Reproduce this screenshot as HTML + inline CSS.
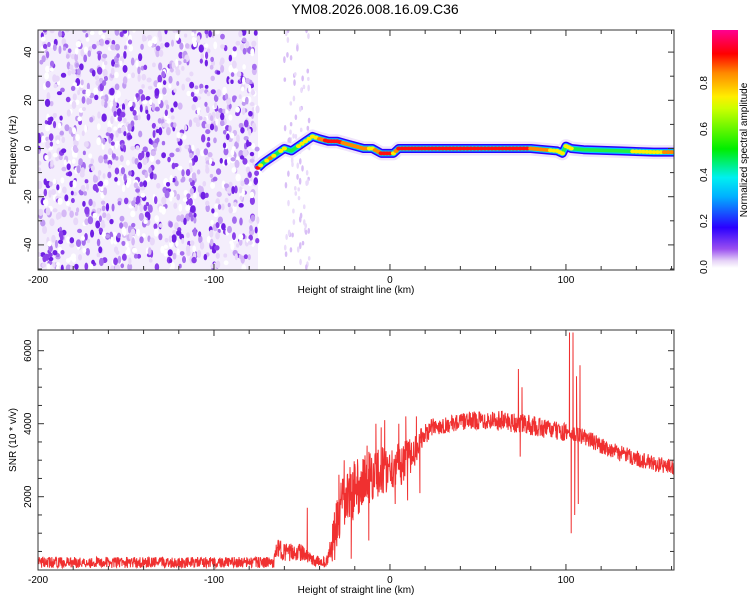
<!DOCTYPE html>
<html><head><meta charset="utf-8"><style>
body{margin:0;background:#fff}
svg text{font-family:"Liberation Sans",sans-serif;fill:#000}
</style></head><body>
<svg id="c" width="750" height="600" viewBox="0 0 750 600" xmlns="http://www.w3.org/2000/svg">
<defs>
<linearGradient id="cb" x1="0" y1="1" x2="0" y2="0">
<stop offset="0" stop-color="#ffffff"/><stop offset="0.03" stop-color="#e6d3f7"/><stop offset="0.08" stop-color="#9a4ff0"/>
<stop offset="0.17" stop-color="#2a00ff"/><stop offset="0.3" stop-color="#00b0ff"/><stop offset="0.38" stop-color="#00f0f0"/>
<stop offset="0.5" stop-color="#00ee00"/><stop offset="0.67" stop-color="#ccff00"/><stop offset="0.72" stop-color="#ffee00"/>
<stop offset="0.82" stop-color="#ff8800"/><stop offset="0.9" stop-color="#ff0000"/><stop offset="1" stop-color="#ff0090"/>
</linearGradient>
<clipPath id="clipTop"><rect x="38" y="30" width="636" height="240"/></clipPath>
<clipPath id="clipBot"><rect x="38" y="330" width="636" height="240"/></clipPath>
</defs>
<text x="375" y="14" font-size="14" text-anchor="middle">YM08.2026.008.16.09.C36</text>
<g id="top"></g>
<g id="bot"></g>
<g id="cbar"></g>
</svg>
<script>
// ---- data ----
const xTicks=[-200,-100,0,100];
const freqTicks=[40,20,0,-20,-40];
const snrTicks=[2000,4000,6000];
const cbTicks=[0.0,0.2,0.4,0.6,0.8];
// frequency track (km, Hz, amplitude)
const trackKm=[-75,-72,-68,-64,-60,-56,-52,-48,-44,-40,-35,-30,-25,-20,-15,-10,-5,0,2,5,20,40,60,80,95,98,100,103,110,130,150,162];
const trackHz=[-8,-6,-4,-2,0,-1,1,3,5,4,3,3,2,1,0,0,-2,-2,-2,0,0,0,0,0,-1,-2,1,0,-0.5,-1,-1.5,-1.5];
const trackAmp=[0.9,0.5,0.8,0.5,0.7,0.4,0.6,0.6,0.7,0.8,0.9,0.9,0.8,0.8,0.8,0.7,0.9,0.9,0.7,0.95,0.95,0.95,0.9,0.85,0.7,0.6,0.7,0.6,0.5,0.55,0.7,0.85];
// SNR envelope (km, value, noise half-width)
const snrKm=[-200,-66,-64,-58,-52,-48,-44,-36,-32,-28,-24,-18,-10,-4,0,6,12,18,24,30,40,50,60,70,80,90,100,110,120,130,140,150,162];
const snrVal=[200,200,600,450,500,400,250,200,800,1600,2000,2300,2600,2700,2800,2900,3100,3600,3900,3950,4050,4100,4100,4050,3950,3850,3750,3650,3400,3200,3050,2900,2800];
const snrNoise=[150,150,250,250,250,200,150,150,700,800,800,800,700,700,600,600,500,300,250,220,230,250,280,300,280,260,250,230,220,220,220,220,220];
// spikes (km, value)
const spikeKm=[-47,-29,-26,-22,-13,-12,-8,-5,-3,3,5,9,10,15,17,73,74,75,102,103,104,105,106,107,108];
const spikeVal=[1700,2600,3000,300,3400,800,4000,3900,4100,1800,4000,4200,1900,4200,2100,5500,3100,5000,6500,1000,6500,1500,5300,1800,5600];

// ---- scales ----
const X0=38,X1=674,KM0=-200,KM1=161.4;
const xs=k=>X0+(k-KM0)/(KM1-KM0)*(X1-X0);
const fy=h=>148.5-h*2.41;
const sy=v=>569.7-v*0.0365;
const cy=a=>267-a*230;
const NS='http://www.w3.org/2000/svg';
function mk(tag,attrs,parent){const e=document.createElementNS(NS,tag);for(const k in attrs)e.setAttribute(k,attrs[k]);parent.appendChild(e);return e;}
let seed=12345;function rnd(){seed=(seed*16807)%2147483647;return seed/2147483647;}
function interp(xa,ya,x){if(x<=xa[0])return ya[0];for(let i=1;i<xa.length;i++){if(x<=xa[i]){const t=(x-xa[i-1])/(xa[i]-xa[i-1]);return ya[i-1]+t*(ya[i]-ya[i-1]);}}return ya[ya.length-1];}

const gTop=document.getElementById('top'),gBot=document.getElementById('bot'),cbar=document.getElementById('cbar');

// ---- top panel: noise texture ----
const gN=mk('g',{'clip-path':'url(#clipTop)'},gTop);


mk('rect',{x:X0,y:30,width:xs(-75)-X0,height:240,fill:'#f4eefc'},gN);
const purples=['#ffffff','#ffffff','#e8d8f9','#e8d8f9','#d5b8f6','#c09af2','#a46cee','#8a3fea','#7020e4'];
for(let i=0;i<1300;i++){const k=-200+rnd()*125;const y=30+rnd()*240;const c=purples[Math.floor(rnd()*purples.length)];
 mk('ellipse',{cx:xs(k),cy:y,rx:1.5+rnd()*1.2,ry:2+rnd()*2.2,fill:c},gN);}
for(let i=0;i<90;i++){const k=-60+rnd()*15;const y=30+rnd()*240;
 mk('ellipse',{cx:xs(k),cy:y,rx:1.3,ry:2+rnd()*1.5,fill:rnd()<0.5?'#eadcfa':'#d9bff6'},gN);}
// ---- track ----
const gT=mk('g',{'clip-path':'url(#clipTop)'},gTop);


const pts=trackKm.map((k,i)=>xs(k)+','+fy(trackHz[i])).join(' ');
[[14,'#efe4fb'],[9,'#2a00ff'],[6,'#00c8ff'],[3.5,'#22ee44']].forEach(([w,c])=>mk('polyline',{points:pts,fill:'none',stroke:c,'stroke-width':w,'stroke-linejoin':'round'},gT));
for(let i=0;i<trackKm.length-1;i++){const n=Math.max(1,Math.round((trackKm[i+1]-trackKm[i])/2));
 for(let j=0;j<n;j++){const t=j/n;const k=trackKm[i]+t*(trackKm[i+1]-trackKm[i]);const h=trackHz[i]+t*(trackHz[i+1]-trackHz[i]);const a=trackAmp[i]+t*(trackAmp[i+1]-trackAmp[i]);
  if(a<0.6)continue;const col=a>0.85?'#ff1010':(a>0.75?'#ff8800':'#ffee00');
  const d=mk('ellipse',{cx:xs(k),cy:fy(h),rx:2.6,ry:2,fill:col},gT);
  
  }}

// ---- bottom: SNR line ----
let sp=[];
for(let px=X0;px<=X1;px+=0.3){const k=KM0+(px-X0)/(X1-X0)*(KM1-KM0);const v=interp(snrKm,snrVal,k)+(rnd()*2-1)*interp(snrKm,snrNoise,k);sp.push([k,Math.max(0,v)]);}
spikeKm.forEach((k,i)=>sp.push([k,spikeVal[i]]));
sp.sort((a,b)=>a[0]-b[0]);
const gL=mk('g',{'clip-path':'url(#clipBot)'},gBot);
const line=mk('polyline',{points:sp.map(p=>xs(p[0]).toFixed(1)+','+sy(p[1]).toFixed(1)).join(' '),fill:'none',stroke:'#f03030','stroke-width':1},gL);



// ---- axes frames ----
function frame(parent,y0,y1,name){
 const r=mk('rect',{x:X0,y:y0,width:X1-X0,height:y1-y0,fill:'none',stroke:'#333','stroke-width':1},parent);
 
 
 for(let k=-200;k<=160;k+=20){const x=xs(k);const L=(k%100===0)?6:4;
  mk('line',{x1:x,y1:y0,x2:x,y2:y0+L,stroke:'#333'},parent);mk('line',{x1:x,y1:y1,x2:x,y2:y1-L,stroke:'#333'},parent);}
 xTicks.forEach(k=>{const t=mk('text',{x:xs(k),y:y1+13,'font-size':10,'text-anchor':'middle'},parent);t.textContent=k;
  
  });
 const xl=mk('text',{x:356,y:y1+23,'font-size':10,'text-anchor':'middle'},parent);xl.textContent='Height of straight line (km)';
 
 
}
frame(gTop,30,270,'spectrogram-frame');
frame(gBot,330,570,'snr-frame');
for(let h=-50;h<=48;h+=10){const y=fy(h);const L=h%20===0?6:4;mk('line',{x1:X0,y1:y,x2:X0+L,y2:y,stroke:'#333'},gTop);mk('line',{x1:X1,y1:y,x2:X1-L,y2:y,stroke:'#333'},gTop);}
freqTicks.forEach(h=>{const t=mk('text',{x:0,y:0,'font-size':10,'text-anchor':'middle',transform:`translate(31,${fy(h)}) rotate(-90)`},gTop);t.textContent=h;
 
 });
const fyl=mk('text',{x:0,y:0,'font-size':10,'text-anchor':'middle',transform:'translate(16,150) rotate(-90)'},gTop);fyl.textContent='Frequency (Hz)';


for(let v=500;v<=6000;v+=500){const y=sy(v);const L=v%2000===0?6:4;mk('line',{x1:X0,y1:y,x2:X0+L,y2:y,stroke:'#333'},gBot);mk('line',{x1:X1,y1:y,x2:X1-L,y2:y,stroke:'#333'},gBot);}
snrTicks.forEach(v=>{const t=mk('text',{x:0,y:0,'font-size':10,'text-anchor':'middle',transform:`translate(31,${sy(v)}) rotate(-90)`},gBot);t.textContent=v;
 
 });
const syl=mk('text',{x:0,y:0,'font-size':10,'text-anchor':'middle',transform:'translate(16,440) rotate(-90)'},gBot);syl.textContent='SNR (10 * v/v)';



// ---- colorbar ----
const cr=mk('rect',{x:712,y:30,width:26,height:238,fill:'url(#cb)'},cbar);


cbTicks.forEach(a=>{const t=mk('text',{x:0,y:0,'font-size':10,'text-anchor':'middle',transform:`translate(707,${cy(a)}) rotate(-90)`},cbar);t.textContent=a.toFixed(1);
 
 });
const ct=mk('text',{x:0,y:0,'font-size':10,'text-anchor':'middle',transform:'translate(747,150) rotate(-90)'},cbar);ct.textContent='Normalized spectral amplitude';


</script>
</body></html>
